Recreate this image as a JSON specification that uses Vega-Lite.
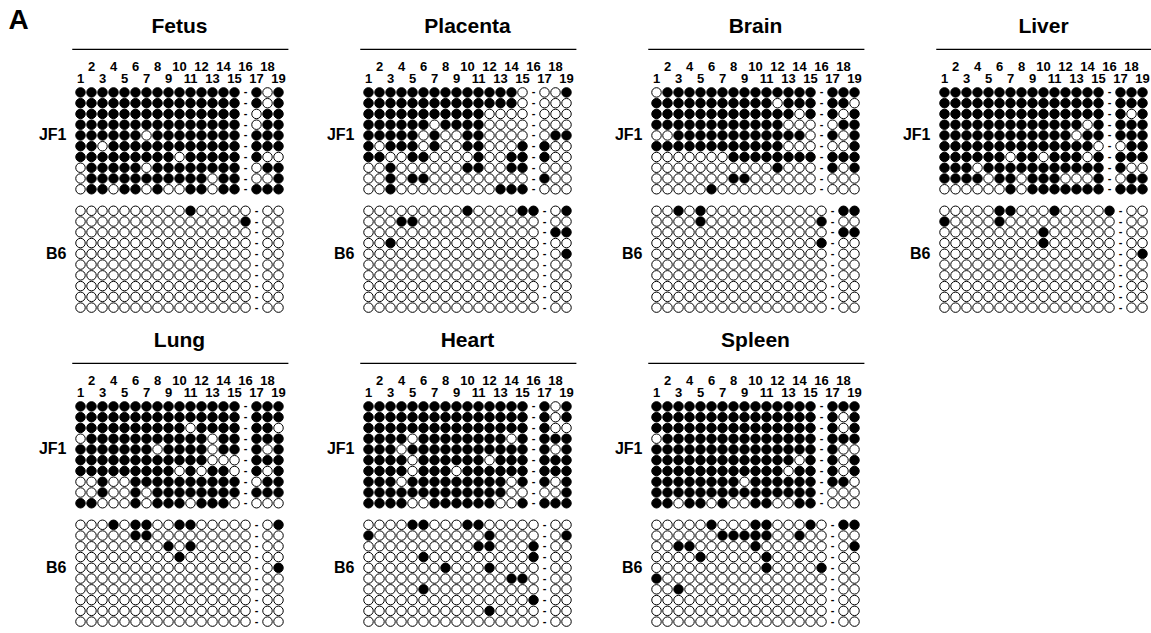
{
"$schema": "https://vega.github.io/schema/vega-lite/v6.json",
"config": {"font": "Liberation Sans", "view": {"stroke": null}, "background": "white"},
"padding": {"left": 8, "top": 6, "right": 5, "bottom": 5},
"title": {"text": "A", "anchor": "start", "frame": "bounds", "fontSize": 28, "fontWeight": "bold", "color": "black", "offset": -19, "dx": -30},
"data": {"values": [
{"t":"Fetus","c":"J1","m":[1,1,1,1,1,1,1,1,1,1,1,1,1,1,1,"-",1,0,1]},
{"t":"Fetus","c":"J2","m":[1,1,1,1,1,1,1,1,1,1,1,1,1,1,1,"-",1,0,1]},
{"t":"Fetus","c":"J3","m":[1,1,1,1,1,1,1,1,1,1,1,1,1,1,1,"-",0,1,1]},
{"t":"Fetus","c":"J4","m":[1,1,1,1,1,1,1,1,1,1,1,1,1,1,1,"-",0,1,1]},
{"t":"Fetus","c":"J5","m":[1,1,1,1,1,1,0,1,1,1,1,1,1,1,1,"-",1,1,1]},
{"t":"Fetus","c":"J6","m":[1,1,0,1,1,1,1,1,1,1,1,1,1,1,1,"-",1,1,1]},
{"t":"Fetus","c":"J7","m":[1,1,1,1,1,1,1,1,1,0,1,1,1,1,1,"-",1,0,0]},
{"t":"Fetus","c":"J8","m":[0,1,1,1,1,1,0,1,1,1,1,1,1,1,1,"-",0,1,1]},
{"t":"Fetus","c":"J9","m":[0,1,1,1,1,1,1,1,1,1,1,1,0,1,1,"-",0,0,1]},
{"t":"Fetus","c":"J10","m":[0,1,1,0,1,1,0,1,0,0,1,1,0,1,1,"-",1,1,1]},
{"t":"Fetus","c":"B1","m":[0,0,0,0,0,0,0,0,0,0,1,0,0,0,0,0,"-",0,0]},
{"t":"Fetus","c":"B2","m":[0,0,0,0,0,0,0,0,0,0,0,0,0,0,0,1,"-",0,0]},
{"t":"Fetus","c":"B3","m":[0,0,0,0,0,0,0,0,0,0,0,0,0,0,0,0,"-",0,0]},
{"t":"Fetus","c":"B4","m":[0,0,0,0,0,0,0,0,0,0,0,0,0,0,0,0,"-",0,0]},
{"t":"Fetus","c":"B5","m":[0,0,0,0,0,0,0,0,0,0,0,0,0,0,0,0,"-",0,0]},
{"t":"Fetus","c":"B6","m":[0,0,0,0,0,0,0,0,0,0,0,0,0,0,0,0,"-",0,0]},
{"t":"Fetus","c":"B7","m":[0,0,0,0,0,0,0,0,0,0,0,0,0,0,0,0,"-",0,0]},
{"t":"Fetus","c":"B8","m":[0,0,0,0,0,0,0,0,0,0,0,0,0,0,0,0,"-",0,0]},
{"t":"Fetus","c":"B9","m":[0,0,0,0,0,0,0,0,0,0,0,0,0,0,0,0,"-",0,0]},
{"t":"Fetus","c":"B10","m":[0,0,0,0,0,0,0,0,0,0,0,0,0,0,0,0,"-",0,0]},
{"t":"Placenta","c":"J1","m":[1,1,1,1,1,1,1,1,1,1,1,1,1,1,0,"-",0,0,1]},
{"t":"Placenta","c":"J2","m":[1,1,1,1,1,1,1,1,1,1,1,1,1,1,0,"-",0,0,0]},
{"t":"Placenta","c":"J3","m":[1,1,1,1,1,1,1,1,1,1,1,0,0,0,0,"-",0,0,0]},
{"t":"Placenta","c":"J4","m":[1,1,1,1,1,1,0,1,1,1,1,0,0,0,0,"-",0,0,0]},
{"t":"Placenta","c":"J5","m":[1,1,1,1,1,0,1,0,0,1,1,0,0,0,0,"-",0,1,1]},
{"t":"Placenta","c":"J6","m":[1,0,1,1,1,0,1,0,0,1,1,0,0,0,1,"-",1,0,0]},
{"t":"Placenta","c":"J7","m":[1,1,0,0,1,1,0,0,0,0,1,0,0,1,1,"-",1,0,0]},
{"t":"Placenta","c":"J8","m":[0,0,1,0,0,0,0,0,0,1,1,0,0,1,1,"-",0,0,0]},
{"t":"Placenta","c":"J9","m":[0,0,1,0,1,1,0,0,0,0,0,0,0,0,0,"-",1,0,0]},
{"t":"Placenta","c":"J10","m":[0,0,1,0,0,0,0,0,0,0,0,0,1,1,1,"-",0,0,0]},
{"t":"Placenta","c":"B1","m":[0,0,0,0,0,0,0,0,0,1,0,0,0,0,1,1,"-",0,1]},
{"t":"Placenta","c":"B2","m":[0,0,0,1,1,0,0,0,0,0,0,0,0,0,0,0,"-",0,0]},
{"t":"Placenta","c":"B3","m":[0,0,0,0,0,0,0,0,0,0,0,0,0,0,0,0,"-",1,1]},
{"t":"Placenta","c":"B4","m":[0,0,1,0,0,0,0,0,0,0,0,0,0,0,0,0,"-",0,0]},
{"t":"Placenta","c":"B5","m":[0,0,0,0,0,0,0,0,0,0,0,0,0,0,0,0,"-",0,1]},
{"t":"Placenta","c":"B6","m":[0,0,0,0,0,0,0,0,0,0,0,0,0,0,0,0,"-",0,0]},
{"t":"Placenta","c":"B7","m":[0,0,0,0,0,0,0,0,0,0,0,0,0,0,0,0,"-",0,0]},
{"t":"Placenta","c":"B8","m":[0,0,0,0,0,0,0,0,0,0,0,0,0,0,0,0,"-",0,0]},
{"t":"Placenta","c":"B9","m":[0,0,0,0,0,0,0,0,0,0,0,0,0,0,0,0,"-",0,0]},
{"t":"Placenta","c":"B10","m":[0,0,0,0,0,0,0,0,0,0,0,0,0,0,0,0,"-",0,0]},
{"t":"Brain","c":"J1","m":[0,1,1,1,1,1,1,1,1,1,1,1,1,1,1,"-",1,1,1]},
{"t":"Brain","c":"J2","m":[1,1,1,1,1,1,1,1,1,1,1,0,1,1,1,"-",1,1,0]},
{"t":"Brain","c":"J3","m":[1,1,1,1,1,1,1,1,1,1,1,1,1,0,1,"-",1,0,1]},
{"t":"Brain","c":"J4","m":[1,1,1,1,1,1,1,1,1,1,1,1,0,0,0,"-",0,1,1]},
{"t":"Brain","c":"J5","m":[0,0,1,1,1,1,1,1,1,1,1,1,1,1,0,"-",1,0,1]},
{"t":"Brain","c":"J6","m":[1,1,1,1,1,1,1,1,1,1,1,1,0,0,0,"-",0,0,1]},
{"t":"Brain","c":"J7","m":[0,0,0,0,0,0,0,1,1,1,1,1,1,1,1,"-",1,1,1]},
{"t":"Brain","c":"J8","m":[0,0,0,0,0,0,0,0,0,0,0,1,0,0,0,"-",1,0,1]},
{"t":"Brain","c":"J9","m":[0,0,0,0,0,0,0,1,1,0,0,0,0,0,0,"-",0,0,0]},
{"t":"Brain","c":"J10","m":[0,0,0,0,0,1,0,0,0,0,0,0,0,0,0,"-",0,0,0]},
{"t":"Brain","c":"B1","m":[0,0,1,0,1,0,0,0,0,0,0,0,0,0,0,0,"-",1,1]},
{"t":"Brain","c":"B2","m":[0,0,0,0,1,0,0,0,0,0,0,0,0,0,0,1,"-",0,0]},
{"t":"Brain","c":"B3","m":[0,0,0,0,0,0,0,0,0,0,0,0,0,0,0,0,"-",1,1]},
{"t":"Brain","c":"B4","m":[0,0,0,0,0,0,0,0,0,0,0,0,0,0,0,1,"-",0,0]},
{"t":"Brain","c":"B5","m":[0,0,0,0,0,0,0,0,0,0,0,0,0,0,0,0,"-",0,0]},
{"t":"Brain","c":"B6","m":[0,0,0,0,0,0,0,0,0,0,0,0,0,0,0,0,"-",0,0]},
{"t":"Brain","c":"B7","m":[0,0,0,0,0,0,0,0,0,0,0,0,0,0,0,0,"-",0,0]},
{"t":"Brain","c":"B8","m":[0,0,0,0,0,0,0,0,0,0,0,0,0,0,0,0,"-",0,0]},
{"t":"Brain","c":"B9","m":[0,0,0,0,0,0,0,0,0,0,0,0,0,0,0,0,"-",0,0]},
{"t":"Brain","c":"B10","m":[0,0,0,0,0,0,0,0,0,0,0,0,0,0,0,0,"-",0,0]},
{"t":"Liver","c":"J1","m":[1,1,1,1,1,1,1,1,1,1,1,1,1,1,1,"-",1,1,1]},
{"t":"Liver","c":"J2","m":[1,1,1,1,1,1,1,1,1,1,1,1,1,1,1,"-",1,1,1]},
{"t":"Liver","c":"J3","m":[1,1,1,1,1,1,1,1,1,1,1,1,1,1,1,"-",1,0,1]},
{"t":"Liver","c":"J4","m":[1,1,1,1,1,1,1,1,1,1,1,1,1,0,1,"-",1,1,1]},
{"t":"Liver","c":"J5","m":[1,1,1,1,1,1,1,1,1,1,1,1,0,1,1,"-",1,1,1]},
{"t":"Liver","c":"J6","m":[1,1,1,1,1,1,1,1,1,1,1,1,1,1,0,"-",0,1,1]},
{"t":"Liver","c":"J7","m":[1,1,1,1,1,1,0,1,1,0,1,1,1,0,1,"-",1,1,1]},
{"t":"Liver","c":"J8","m":[1,1,1,0,1,1,1,1,1,1,1,1,1,1,1,"-",1,0,0]},
{"t":"Liver","c":"J9","m":[1,1,1,1,0,1,1,0,1,1,1,0,0,0,1,"-",0,1,1]},
{"t":"Liver","c":"J10","m":[0,0,0,0,0,0,1,0,1,1,1,1,1,1,1,"-",1,1,1]},
{"t":"Liver","c":"B1","m":[0,0,0,0,0,1,1,0,0,0,1,0,0,0,0,1,"-",0,0]},
{"t":"Liver","c":"B2","m":[1,0,0,0,0,1,0,0,0,0,0,0,0,0,0,0,"-",0,0]},
{"t":"Liver","c":"B3","m":[0,0,0,0,0,0,0,0,0,1,0,0,0,0,0,0,"-",0,0]},
{"t":"Liver","c":"B4","m":[0,0,0,0,0,0,0,0,0,1,0,0,0,0,0,0,"-",0,0]},
{"t":"Liver","c":"B5","m":[0,0,0,0,0,0,0,0,0,0,0,0,0,0,0,0,"-",0,1]},
{"t":"Liver","c":"B6","m":[0,0,0,0,0,0,0,0,0,0,0,0,0,0,0,0,"-",0,0]},
{"t":"Liver","c":"B7","m":[0,0,0,0,0,0,0,0,0,0,0,0,0,0,0,0,"-",0,0]},
{"t":"Liver","c":"B8","m":[0,0,0,0,0,0,0,0,0,0,0,0,0,0,0,0,"-",0,0]},
{"t":"Liver","c":"B9","m":[0,0,0,0,0,0,0,0,0,0,0,0,0,0,0,0,"-",0,0]},
{"t":"Liver","c":"B10","m":[0,0,0,0,0,0,0,0,0,0,0,0,0,0,0,0,"-",0,0]},
{"t":"Lung","c":"J1","m":[1,1,1,1,1,1,1,1,1,1,1,1,1,1,1,"-",1,1,1]},
{"t":"Lung","c":"J2","m":[1,1,1,1,1,1,1,1,1,1,1,1,1,1,1,"-",1,1,1]},
{"t":"Lung","c":"J3","m":[1,1,1,1,1,1,1,1,1,1,0,1,1,1,1,"-",1,1,0]},
{"t":"Lung","c":"J4","m":[0,1,1,1,1,1,1,1,1,1,1,1,0,1,1,"-",1,1,1]},
{"t":"Lung","c":"J5","m":[1,1,1,1,1,1,1,0,1,1,1,1,0,1,1,"-",1,0,1]},
{"t":"Lung","c":"J6","m":[1,1,1,1,1,1,1,1,1,1,1,1,0,0,0,"-",1,1,1]},
{"t":"Lung","c":"J7","m":[1,1,1,1,1,1,1,1,1,0,1,0,1,1,0,"-",1,0,1]},
{"t":"Lung","c":"J8","m":[0,0,1,0,0,1,1,1,1,1,1,1,1,1,1,"-",0,1,1]},
{"t":"Lung","c":"J9","m":[0,0,1,0,0,1,0,1,1,1,1,1,1,1,1,"-",1,1,1]},
{"t":"Lung","c":"J10","m":[1,1,0,0,0,1,0,1,1,1,0,1,1,1,0,"-",0,0,0]},
{"t":"Lung","c":"B1","m":[0,0,0,1,0,1,1,0,0,1,1,0,0,0,0,0,"-",0,1]},
{"t":"Lung","c":"B2","m":[0,0,0,0,0,1,1,0,0,0,0,0,0,0,0,0,"-",0,0]},
{"t":"Lung","c":"B3","m":[0,0,0,0,0,0,0,0,1,0,1,0,0,0,0,0,"-",0,0]},
{"t":"Lung","c":"B4","m":[0,0,0,0,0,0,0,0,0,1,0,0,0,0,0,0,"-",0,0]},
{"t":"Lung","c":"B5","m":[0,0,0,0,0,0,0,0,0,0,0,0,0,0,0,0,"-",0,1]},
{"t":"Lung","c":"B6","m":[0,0,0,0,0,0,0,0,0,0,0,0,0,0,0,0,"-",0,0]},
{"t":"Lung","c":"B7","m":[0,0,0,0,0,0,0,0,0,0,0,0,0,0,0,0,"-",0,0]},
{"t":"Lung","c":"B8","m":[0,0,0,0,0,0,0,0,0,0,0,0,0,0,0,0,"-",0,0]},
{"t":"Lung","c":"B9","m":[0,0,0,0,0,0,0,0,0,0,0,0,0,0,0,0,"-",0,0]},
{"t":"Lung","c":"B10","m":[0,0,0,0,0,0,0,0,0,0,0,0,0,0,0,0,"-",0,0]},
{"t":"Heart","c":"J1","m":[1,1,1,1,1,1,1,1,1,1,1,1,1,1,1,"-",1,0,1]},
{"t":"Heart","c":"J2","m":[1,1,1,1,1,1,1,1,1,1,1,1,1,1,1,"-",1,0,1]},
{"t":"Heart","c":"J3","m":[1,1,1,1,1,1,1,1,1,1,1,1,1,1,1,"-",1,0,0]},
{"t":"Heart","c":"J4","m":[1,1,1,1,0,1,1,1,1,1,1,1,1,0,1,"-",1,1,1]},
{"t":"Heart","c":"J5","m":[1,1,1,0,1,1,1,1,1,1,1,1,1,1,1,"-",1,0,1]},
{"t":"Heart","c":"J6","m":[1,1,1,1,0,1,1,1,1,1,1,0,1,1,1,"-",1,1,1]},
{"t":"Heart","c":"J7","m":[1,1,1,1,0,1,1,1,0,1,1,1,1,1,1,"-",1,1,1]},
{"t":"Heart","c":"J8","m":[1,1,1,0,1,1,1,1,1,1,1,1,1,0,1,"-",1,0,1]},
{"t":"Heart","c":"J9","m":[1,1,1,1,1,1,1,1,1,1,1,1,1,0,0,"-",0,0,1]},
{"t":"Heart","c":"J10","m":[1,1,1,1,0,0,1,1,1,1,1,1,0,0,1,"-",1,1,1]},
{"t":"Heart","c":"B1","m":[0,0,0,0,1,1,0,0,0,1,1,0,0,0,0,0,"-",0,0]},
{"t":"Heart","c":"B2","m":[1,0,0,0,0,0,0,0,0,0,0,1,0,0,0,0,"-",0,1]},
{"t":"Heart","c":"B3","m":[0,0,0,0,0,0,0,0,0,0,1,1,0,0,0,1,"-",0,0]},
{"t":"Heart","c":"B4","m":[0,0,0,0,0,1,0,0,0,0,0,0,0,0,0,1,"-",0,0]},
{"t":"Heart","c":"B5","m":[0,0,0,0,0,0,0,1,0,0,0,1,0,0,0,0,"-",0,0]},
{"t":"Heart","c":"B6","m":[0,0,0,0,0,0,0,0,0,0,0,0,0,1,1,0,"-",0,0]},
{"t":"Heart","c":"B7","m":[0,0,0,0,0,1,0,0,0,0,0,0,0,0,0,0,"-",0,0]},
{"t":"Heart","c":"B8","m":[0,0,0,0,0,0,0,0,0,0,0,0,0,0,0,1,"-",0,0]},
{"t":"Heart","c":"B9","m":[0,0,0,0,0,0,0,0,0,0,0,1,0,0,0,0,"-",0,0]},
{"t":"Heart","c":"B10","m":[0,0,0,0,0,0,0,0,0,0,0,0,0,0,0,0,"-",0,0]},
{"t":"Spleen","c":"J1","m":[1,1,1,1,1,1,1,1,1,1,1,1,1,1,1,"-",1,1,1]},
{"t":"Spleen","c":"J2","m":[1,1,1,1,1,1,1,1,1,1,1,1,1,1,1,"-",1,0,1]},
{"t":"Spleen","c":"J3","m":[1,1,1,1,1,1,1,1,1,1,1,1,1,1,1,"-",1,0,1]},
{"t":"Spleen","c":"J4","m":[0,1,1,1,1,1,1,1,1,1,1,1,1,1,1,"-",1,1,1]},
{"t":"Spleen","c":"J5","m":[1,1,1,1,1,1,1,1,1,1,1,1,1,1,1,"-",1,0,0]},
{"t":"Spleen","c":"J6","m":[1,1,1,1,1,1,1,1,1,1,1,1,1,0,1,"-",1,0,1]},
{"t":"Spleen","c":"J7","m":[1,1,1,1,1,1,1,1,1,1,1,1,0,1,1,"-",1,0,1]},
{"t":"Spleen","c":"J8","m":[1,1,1,1,1,1,1,1,0,1,1,1,1,1,1,"-",1,1,0]},
{"t":"Spleen","c":"J9","m":[1,1,1,1,1,1,1,1,1,1,1,1,1,1,1,"-",0,0,0]},
{"t":"Spleen","c":"J10","m":[1,1,0,1,1,0,1,0,0,1,1,0,0,1,1,"-",0,0,0]},
{"t":"Spleen","c":"B1","m":[0,0,0,0,0,1,0,0,0,1,1,0,0,0,1,0,"-",1,1]},
{"t":"Spleen","c":"B2","m":[0,0,0,0,0,0,1,1,1,1,1,0,0,1,0,0,"-",0,0]},
{"t":"Spleen","c":"B3","m":[0,0,1,1,0,0,0,0,0,1,0,0,0,0,0,0,"-",0,1]},
{"t":"Spleen","c":"B4","m":[0,0,0,0,1,0,0,0,0,0,1,0,0,0,0,0,"-",0,0]},
{"t":"Spleen","c":"B5","m":[0,0,0,0,0,0,0,0,0,0,1,0,0,0,0,1,"-",0,0]},
{"t":"Spleen","c":"B6","m":[1,0,0,0,0,0,0,0,0,0,0,0,0,0,0,0,"-",0,0]},
{"t":"Spleen","c":"B7","m":[0,0,1,0,0,0,0,0,0,0,0,0,0,0,0,0,"-",0,0]},
{"t":"Spleen","c":"B8","m":[0,0,0,0,0,0,0,0,0,0,0,0,0,0,0,0,"-",0,0]},
{"t":"Spleen","c":"B9","m":[0,0,0,0,0,0,0,0,0,0,0,0,0,0,0,0,"-",0,0]},
{"t":"Spleen","c":"B10","m":[0,0,0,0,0,0,0,0,0,0,0,0,0,0,0,0,"-",0,0]}
]},
"transform": [
  {"flatten": ["m"]},
  {"window": [{"op": "row_number", "as": "s"}], "groupby": ["t", "c"]}
],
"facet": {"field": "t", "type": "nominal", "sort": ["Fetus","Placenta","Brain","Liver","Lung","Heart","Spleen"],
  "header": {"title": null, "labelFontSize": 21, "labelFontWeight": "bold", "labelColor": "black", "labelPadding": 4, "labelFont": "Liberation Sans"}},
"columns": 4,
"spacing": {"row": 13, "column": 37},
"resolve": {"axis": {"x": "independent", "y": "independent"}},
"spec": {
  "width": 209,
  "height": 269,
  "encoding": {
    "x": {"field": "s", "type": "quantitative", "scale": {"domain": [0.5, 19.5], "nice": false, "zero": false}, "axis": null},
    "y": {"field": "c", "type": "ordinal",
      "scale": {"domain": ["h1","h2","h3","h4","J1","J2","J3","J4","J5","J6","J7","J8","J9","J10","gap","B1","B2","B3","B4","B5","B6","B7","B8","B9","B10"], "paddingInner": 0, "paddingOuter": 0},
      "axis": {"title": null, "domain": false, "ticks": false, "labelOverlap": false, "bandPosition": 1,
        "labelExpr": "datum.value == 'J5' ? 'JF1' : (datum.value == 'B5' ? 'B6' : '')",
        "labelFontSize": 16, "labelFontWeight": "bold", "labelColor": "black", "labelPadding": 9, "labelBaseline": "middle"}}
  },
  "layer": [
    {"transform": [{"filter": "datum.m !== '-'"}],
     "mark": {"type": "circle", "size": 90, "stroke": "black", "strokeWidth": 1, "opacity": 1},
     "encoding": {"fill": {"field": "m", "type": "nominal", "scale": {"domain": [1, 0], "range": ["black", "white"]}, "legend": null}}},
    {"transform": [{"filter": "datum.m === '-'"}],
     "mark": {"type": "text", "text": "-", "fontSize": 11, "fontWeight": "bold", "baseline": "middle", "color": "black"}},
    {"transform": [{"filter": "datum.c === 'J1' && datum.s % 2 === 0"}],
     "mark": {"type": "text", "fontSize": 13, "fontWeight": "bold", "baseline": "middle", "dy": -3.5, "color": "black"},
     "encoding": {"y": {"datum": "h3", "type": "ordinal"}, "text": {"field": "s", "type": "quantitative"}}},
    {"transform": [{"filter": "datum.c === 'J1' && datum.s % 2 === 1"}],
     "mark": {"type": "text", "fontSize": 13, "fontWeight": "bold", "baseline": "middle", "dy": -2.3, "color": "black"},
     "encoding": {"y": {"datum": "h4", "type": "ordinal"}, "text": {"field": "s", "type": "quantitative"}}},
    {"transform": [{"filter": "datum.c === 'J1' && datum.s === 1"}],
     "mark": {"type": "rule", "strokeWidth": 1.2, "color": "black"},
     "encoding": {"y": {"datum": "h1", "type": "ordinal"}, "x": {"datum": 0.25}, "x2": {"datum": 19.9}}}
  ]
}
}
